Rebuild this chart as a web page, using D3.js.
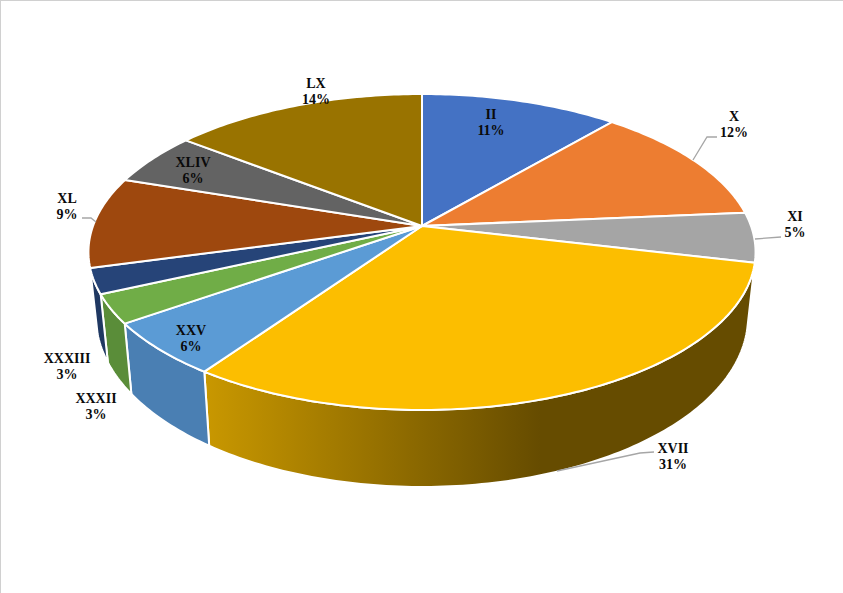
<!DOCTYPE html>
<html><head><meta charset="utf-8">
<script src="https://cdn.jsdelivr.net/npm/d3@7"></script>
<style>html,body{margin:0;padding:0;background:#fff;overflow:hidden}svg{display:block}</style>
</head><body><div id="c"></div>
<script>
const categories=["II","X","XI","XVII","XXV","XXXII","XXXIII","XL","XLIV","LX"];
const values=[11.25,12.35,5.1,31,5.55,2.95,2.6,9.3,5.4,14.5];
const percentLabels=["11%","12%","5%","31%","6%","3%","3%","9%","6%","14%"];
const topColors=["#4472C4","#ED7D31","#A5A5A5","#FCBE00","#5B9BD5","#70AD47","#264478","#9E480E","#636363","#997300"];
const wallStart=["#365b9c","#bd6427","#848484","#c99800","#4a7fb3","#5a8d39","#1f3862","#7e390b","#4f4f4f","#7a5c00"];
const wallEnd=["#2a4679","#94491c","#676767","#664c00","#4a7fb3","#5a8d39","#1f3862","#632d09","#3e3e3e","#604800"];
const labelX=[491,734,795,673,191,96,67,67,193,316];
const labelY=[114,116,216,448,330,398,358,198,162,83];
const leaders=[null,[[693,160],[707,137],[717,137]],[[755,239],[781,237]],[[557,471],[640,453],[654,452]],null,null,null,[[82,218],[91,218],[96,222]],null,null];

const W=843,H=593;
const svg=d3.select("#c").append("svg").attr("width",W).attr("height",H);
const defs=svg.append("defs");
svg.append("rect").attr("width",W).attr("height",H).attr("fill","#fff");
svg.append("rect").attr("width",W).attr("height",1).attr("fill","#d0d0d0");
svg.append("rect").attr("width",1).attr("height",H).attr("fill","#d0d0d0");

const k=0.1645;
const upper={x:422,y:226,a:329,b:153.7};
const lower={x:422,y:289,a:321.6,b:165.4};
const proj=(p,t)=>{const c=Math.sin(t),s=-Math.cos(t),w=1-k*s;return [p.x+p.a*c/w,p.y+p.b*s/w];};
const pie=d3.pie().sort(null).value(d=>d)(values);
const line=d3.line();
const arcPts=(p,d)=>{const n=Math.max(4,Math.ceil((d.endAngle-d.startAngle)*60));
  return d3.range(n+1).map(i=>proj(p,d.startAngle+(d.endAngle-d.startAngle)*i/n));};

pie.forEach((d,i)=>{
  const up=arcPts(upper,d),lo=arcPts(lower,d);
  const id="w"+i,xs=up.concat(lo).map(q=>q[0]);
  const g=defs.append("linearGradient").attr("id",id).attr("gradientUnits","userSpaceOnUse")
    .attr("x1",d3.min(xs)).attr("x2",i===3?540:d3.max(xs)).attr("y1",0).attr("y2",0);
  g.append("stop").attr("offset",0).attr("stop-color",wallStart[i]);
  g.append("stop").attr("offset",1).attr("stop-color",wallEnd[i]);
  d.wall=up.concat(lo.reverse());
  d.id=id;
});
// only the walls on the viewer's side of the disc are visible
const frontWalls=pie.filter(d=>d.startAngle>=Math.PI*0.45&&d.endAngle<=Math.PI*1.43);
svg.append("g").selectAll("path").data(frontWalls).join("path")
  .attr("d",d=>line(d.wall)+"Z").attr("fill",d=>`url(#${d.id})`)
  .attr("stroke","#fff").attr("stroke-width",2).attr("stroke-linejoin","round");
svg.append("g").selectAll("path").data(pie).join("path")
  .attr("d",d=>line([[upper.x,upper.y]].concat(arcPts(upper,d)))+"Z")
  .attr("fill",(d,i)=>topColors[i]).attr("stroke","#fff").attr("stroke-width",2).attr("stroke-linejoin","round");

svg.append("g").selectAll("path").data(leaders.filter(Boolean)).join("path")
  .attr("d",d=>line(d)).attr("fill","none").attr("stroke","#a6a6a6").attr("stroke-width",1.3);

const t=svg.append("g").attr("font-family","'Liberation Serif','Times New Roman',serif").attr("font-weight","bold").attr("font-size",14).attr("fill","#0a0a0a").attr("text-anchor","middle");
categories.forEach((c,i)=>{
  const g=t.append("g");
  g.append("text").attr("x",labelX[i]).attr("y",labelY[i]+5).text(c);
  g.append("text").attr("x",labelX[i]).attr("y",labelY[i]+21).text(percentLabels[i]);
});
</script></body></html>
